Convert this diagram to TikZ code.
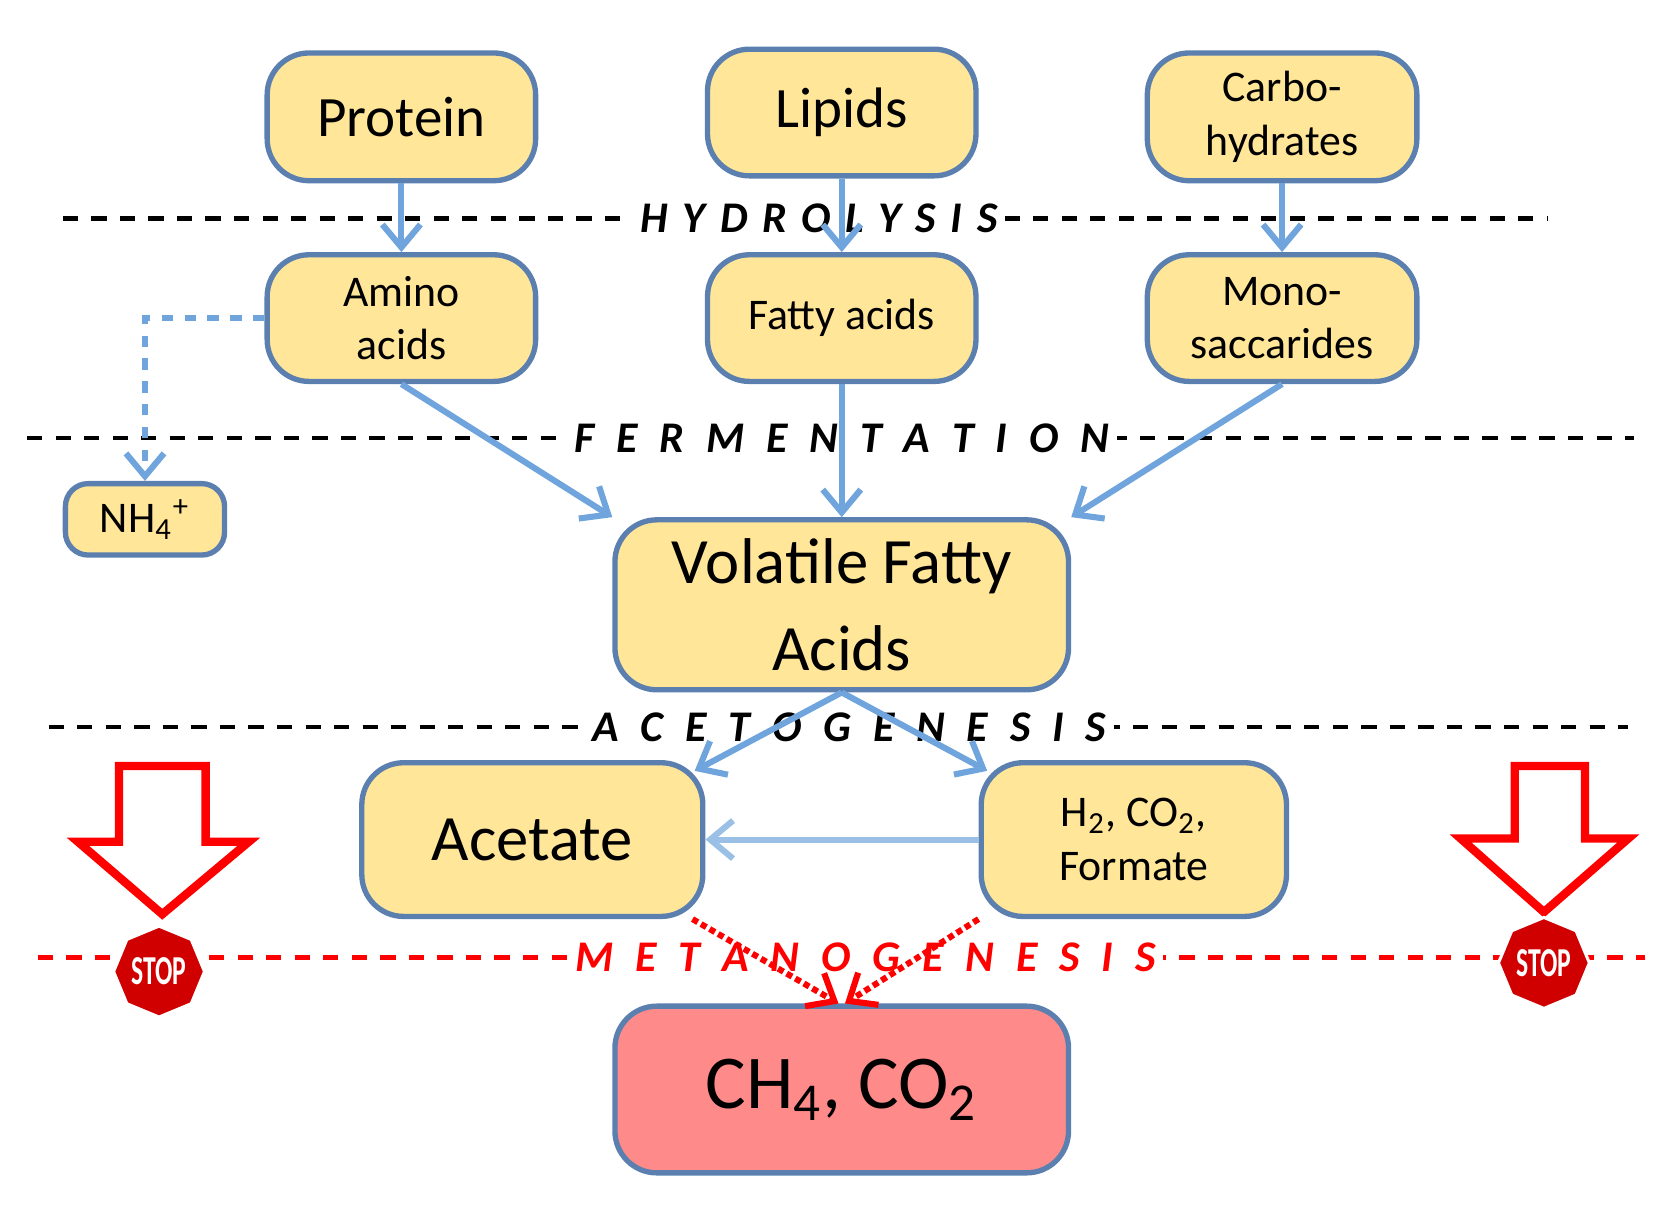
\documentclass[tikz,border=0pt]{standalone}
\usepackage{fontspec}
\setmainfont{Carlito}
\usetikzlibrary{shapes.geometric,arrows.meta,calc}
\definecolor{fill1}{HTML}{FFE699}
\definecolor{edge1}{HTML}{5B7FAF}
\definecolor{arr}{HTML}{6FA5DC}
\definecolor{pinkf}{HTML}{FF8A8A}
\definecolor{stopred}{HTML}{D00000}
\newcommand{\sub}[1]{\textsubscript{#1}}
\newcommand{\sups}[1]{\textsuperscript{#1}}
\begin{document}
\begin{tikzpicture}[x=0.01cm,y=-0.01cm,
  box/.style={draw=edge1,line width=1.4pt,fill=fill1,rounded corners=11pt,align=center,inner sep=0pt},
  conn/.style={draw=arr,line width=1.6pt,-{Straight Barb[length=6pt,width=10pt]}},
  phase/.style={fill=white,inner sep=2pt,font=\fontsize{11.5}{14}\selectfont\bfseries\itshape},
  dl/.style={line width=1.1pt,dash pattern=on 4pt off 3.5pt},
  hollow/.style={draw=red,line width=2.2pt,fill=white},
  stop/.style={regular polygon,regular polygon sides=8,fill=stopred,draw=white,line width=0.8pt,inner sep=0pt,text=white,font=\fontsize{9}{9}\selectfont\bfseries,shape border rotate=22.5}]
\useasboundingbox (0,0) rectangle (1550,1115.6);
% dashed lines
\draw[dl] (58,202) -- (1430,202);
\draw[dl] (25,405) -- (1510,405);
\draw[dl] (45,672) -- (1505,672);
\draw[dl,red] (35,885) -- (1520,885);
% boxes
\node[box,minimum width=2.48cm,minimum height=1.18cm,font=\fontsize{15}{18}\selectfont] (protein) at (371,108) {Protein};
\node[box,minimum width=2.48cm,minimum height=1.17cm,font=\fontsize{15}{18}\selectfont] (lipids) at (778,104) {Lipids};
\node[box,minimum width=2.49cm,minimum height=1.18cm,font=\fontsize{11.5}{14}\selectfont] (carbo) at (1185,108) {Carbo-\\hydrates};
\node[box,minimum width=2.48cm,minimum height=1.17cm,font=\fontsize{11.5}{14}\selectfont] (amino) at (371,294) {Amino\\acids};
\node[box,minimum width=2.48cm,minimum height=1.17cm,font=\fontsize{11.5}{14}\selectfont] (fatty) at (778,294) {Fatty acids};
\node[box,minimum width=2.49cm,minimum height=1.17cm,font=\fontsize{11.5}{14}\selectfont] (mono) at (1185,294) {Mono-\\saccarides};
\node[box,rounded corners=6pt,minimum width=1.47cm,minimum height=0.66cm,font=\fontsize{11.5}{14}\selectfont] (nh4) at (134,480) {NH\sub{4}\sups{+}};
\node[box,minimum width=4.19cm,minimum height=1.57cm,font=\fontsize{17}{23}\selectfont] (vfa) at (778,559) {Volatile Fatty\\Acids};
\node[box,minimum width=3.15cm,minimum height=1.42cm,font=\fontsize{17}{20}\selectfont] (acet) at (492,776) {Acetate};
\node[box,minimum width=2.82cm,minimum height=1.42cm,font=\fontsize{11.5}{14}\selectfont] (h2) at (1048,776) {H\sub{2}, CO\sub{2},\\Formate};
\node[box,fill=pinkf,minimum width=4.19cm,minimum height=1.54cm,font=\fontsize{20}{24}\selectfont] (ch4) at (778,1007) {CH\sub{4}, CO\sub{2}};
% phase labels
\node[phase] (hyd) at (757,202) {H\,\,Y\,\,D\,\,R\,\,O\,\,L\,\,Y\,\,S\,\,I\,\,S};
\node[phase] (fer) at (778,405) {F\,\,\,E\,\,\,R\,\,\,M\,\,\,E\,\,\,N\,\,\,T\,\,\,A\,\,\,T\,\,\,I\,\,\,O\,\,\,N};
\node[phase] (ace) at (785,672) {A\,\,\,C\,\,\,E\,\,\,T\,\,\,O\,\,\,G\,\,\,E\,\,\,N\,\,\,E\,\,\,S\,\,\,I\,\,\,S};
\node[phase,text=red] (met) at (800,885) {M\,\,\,E\,\,\,T\,\,\,A\,\,\,N\,\,\,O\,\,\,G\,\,\,E\,\,\,N\,\,\,E\,\,\,S\,\,\,I\,\,\,S};
% connectors
\draw[conn] (protein) -- (amino);
\draw[conn] (lipids) -- (fatty);
\draw[conn] (carbo) -- (mono);
\draw[conn] (amino.south) -- (vfa.north west);
\draw[conn] (fatty) -- (vfa);
\draw[conn] (mono.south) -- (vfa.north east);
\draw[conn,dashed] (amino.west) -| (nh4.north);
\draw[conn] (vfa.south) -- ($(acet.north east)+(-10,10)$);
\draw[conn] (vfa.south) -- ($(h2.north west)+(8,10)$);
\draw[conn,draw=arr!70] (h2.west) -- (acet.east);
\draw[red,densely dotted,line width=1.6pt,-{Straight Barb[length=6pt,width=10pt]}] ($(acet.south east)+(-12,0)$) -- ($(ch4.north)+(-3,0)$);
\draw[red,densely dotted,line width=1.6pt,-{Straight Barb[length=6pt,width=10pt]}] (h2.south west) -- ($(ch4.north)+(3,0)$);
% hollow arrows
\draw[hollow] (110,708) -- (190,708) -- (190,778) -- (230,778) -- (150,845) -- (72,778) -- (110,778) -- cycle;
\draw[hollow] (1400,708) -- (1465,708) -- (1465,775) -- (1505,775) -- (1427,843) -- (1350,775) -- (1400,775) -- cycle;
\node[stop,minimum size=0.84cm] (stop1) at (147,898) {\scalebox{0.75}[1.2]{STOP}};
\node[stop,minimum size=0.84cm] (stop2) at (1427,890) {\scalebox{0.75}[1.2]{STOP}};
\end{tikzpicture}
\end{document}
